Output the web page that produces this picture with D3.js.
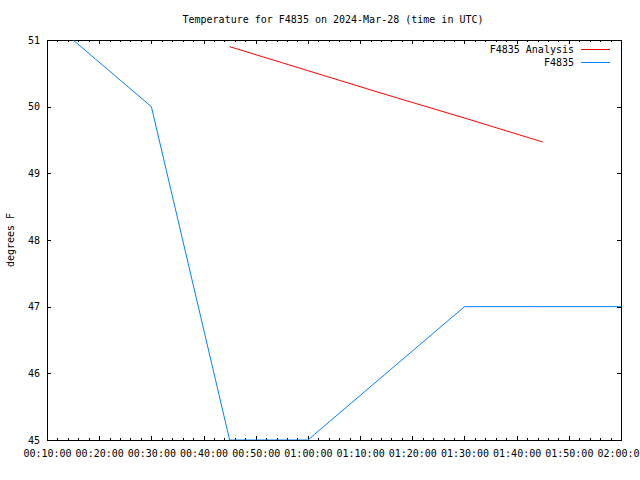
<!DOCTYPE html>
<html><head><meta charset="utf-8">
<script src="https://cdn.jsdelivr.net/npm/d3@7"></script>
<style>body{margin:0;background:#fff}text{font-family:"DejaVu Sans Mono","Liberation Mono",monospace;font-size:10px;fill:#000}</style>
</head><body><svg id="c" width="640" height="480"></svg>
<script>
const title = "Temperature for F4835 on 2024-Mar-28 (time in UTC)";
const yLabel = "degrees F";
const obsTimes = ["00:15","00:30","00:45","01:00","01:15","01:30","01:45","02:00"];
const obsValues = [51, 50, 45, 45, 46, 47, 47, 47];
const anaTimes = ["00:45","01:00","01:15","01:30","01:45"];
const anaValues = [50.9, 50.54, 50.18, 49.83, 49.47];
const xTickLabels = ["00:10:00","00:20:00","00:30:00","00:40:00","00:50:00","01:00:00","01:10:00","01:20:00","01:30:00","01:40:00","01:50:00","02:00:00"];
const yTicks = [45,46,47,48,49,50,51];
const seriesNames = ["F4835 Analysis","F4835"];
const seriesColors = ["#ff0000","#0080ff"];

const toMin = s => { const p = s.split(":").map(Number); return p[0]*60 + p[1] + (p[2]||0)/60; };
const L=47, R=621, T=40, B=440;
const svg = d3.select("#c");
const x = d3.scaleLinear().domain([10,120]).range([L,R]);
const y = d3.scaleLinear().domain([45,51]).range([B,T]);

svg.append("defs").append("clipPath").attr("id","clip").append("rect")
  .attr("x",L).attr("y",T).attr("width",R-L).attr("height",B-T);

const majors = xTickLabels.map(toMin);
const minors = d3.range(10,120.01,2).filter(m => !majors.some(v=>Math.abs(v-m)<1e-6));

const gB = svg.append("g").attr("transform",`translate(0,${B})`)
  .call(d3.axisBottom(x).tickValues(majors).tickSize(-4).tickFormat((d,i)=>xTickLabels[i]));
gB.selectAll("text").attr("dy",null).attr("y",17);
const gBm = svg.append("g").attr("transform",`translate(0,${B})`).call(d3.axisBottom(x).tickValues(minors).tickSize(-2).tickFormat(""));
const gT = svg.append("g").attr("transform",`translate(0,${T})`).call(d3.axisTop(x).tickValues(majors).tickSize(-4).tickFormat(""));
const gTm = svg.append("g").attr("transform",`translate(0,${T})`).call(d3.axisTop(x).tickValues(minors).tickSize(-2).tickFormat(""));
const gL = svg.append("g").attr("transform",`translate(${L},0)`).call(d3.axisLeft(y).tickValues(yTicks).tickSize(-4).tickFormat(d3.format("d")));
gL.selectAll("text").attr("x",-7);
const gR = svg.append("g").attr("transform",`translate(${R},0)`).call(d3.axisRight(y).tickValues(yTicks).tickSize(-4).tickFormat(""));
[gB,gBm,gT,gTm,gL,gR].forEach(g=>{g.select(".domain").remove();g.selectAll("line").attr("stroke","#000").attr("shape-rendering","crispEdges");g.selectAll("text").attr("font-family",null).attr("font-size",null);});
svg.selectAll(".tick text").attr("fill","#000");
svg.append("rect").attr("x",L).attr("y",T).attr("width",R-L).attr("height",B-T)
  .attr("fill","none").attr("stroke","#000").attr("shape-rendering","crispEdges");

const line = d3.line().x(d=>x(toMin(d[0]))).y(d=>y(d[1]));
const plot = svg.append("g").attr("clip-path","url(#clip)");
plot.append("path").datum(anaTimes.map((t,i)=>[t,anaValues[i]])).attr("d",line)
  .attr("fill","none").attr("stroke",seriesColors[0]).attr("stroke-width",1);
plot.append("path").datum(obsTimes.map((t,i)=>[t,obsValues[i]])).attr("d",line)
  .attr("fill","none").attr("stroke",seriesColors[1]).attr("stroke-width",1);

seriesNames.forEach((n,i)=>{
  const yy = 49 + i*13;
  svg.append("text").attr("x",574).attr("y",yy+4).attr("text-anchor","end").text(n);
  svg.append("line").attr("x1",581).attr("x2",610).attr("y1",yy+0.5).attr("y2",yy+0.5).attr("stroke",seriesColors[i]);
});

svg.append("text").attr("x",333).attr("y",23).attr("text-anchor","middle").text(title);
svg.append("text").attr("transform","translate(14,240) rotate(-90)").attr("text-anchor","middle").text(yLabel);
</script></body></html>
